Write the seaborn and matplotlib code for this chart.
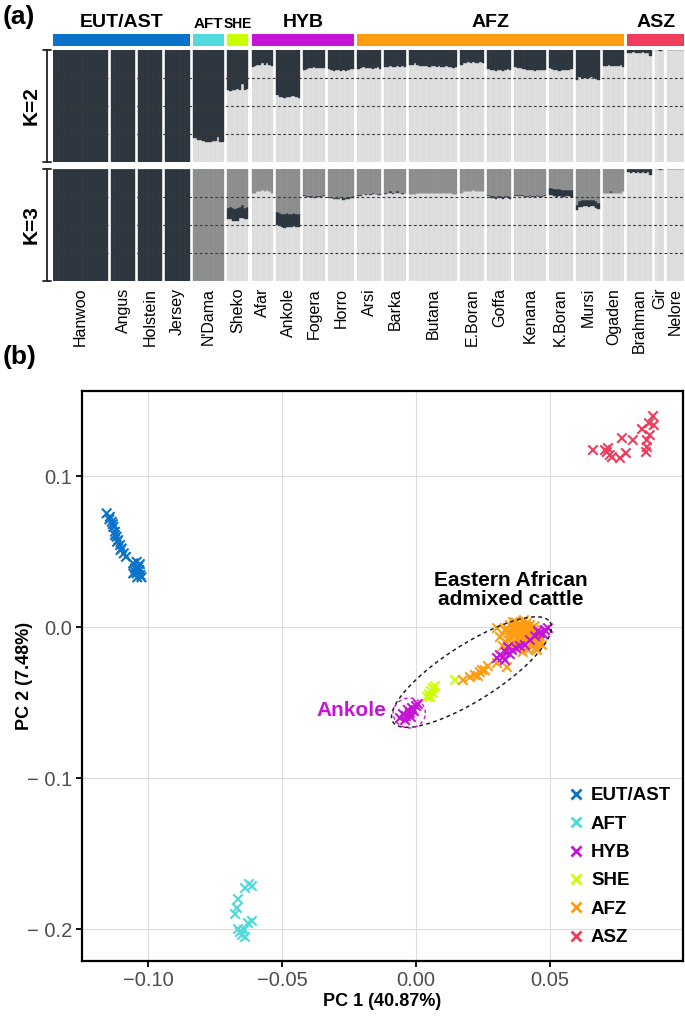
import numpy as np
import pandas as pd
import matplotlib
matplotlib.use("Agg")
import matplotlib.pyplot as plt
import seaborn as sns
from matplotlib.lines import Line2D

sns.set_theme(style="white")
plt.rcParams['font.family'] = ['Liberation Sans', 'DejaVu Sans']
plt.rcParams['text.color'] = 'black'
plt.rcParams['axes.labelcolor'] = 'black'

# ---------------- data: panel (a) ----------------
BREEDS = ["Hanwoo", "Angus", "Holstein", "Jersey", "N'Dama", "Sheko", "Afar", "Ankole",
          "Fogera", "Horro", "Arsi", "Barka", "Butana", "E.Boran", "Goffa", "Kenana",
          "K.Boran", "Mursi", "Ogaden", "Brahman", "Gir", "Nelore"]
BREED_GROUP = ["EUT/AST"] * 4 + ["AFT", "SHE"] + ["HYB"] * 4 + ["AFZ"] * 9 + ["ASZ"] * 3
GROUPS = ["EUT/AST", "AFT", "HYB", "SHE", "AFZ", "ASZ"]
STRIP_ORDER = ["EUT/AST", "AFT", "SHE", "HYB", "AFZ", "ASZ"]
GROUP_COLORS = {"EUT/AST": "#0a72c8", "AFT": "#52d9db", "HYB": "#c614d6",
                "SHE": "#ccff00", "AFZ": "#ff9d12", "ASZ": "#f23c5e"}

# K=2 : taurine (dark) ancestry of each individual
K2_TAURINE = [
    [1.0] * 23, [1.0] * 10, [1.0] * 10, [1.0] * 10,
    [0.79, 0.79, 0.80, 0.80, 0.81, 0.82, 0.82, 0.82, 0.81, 0.81, 0.78, 0.82, 0.82],
    [0.36, 0.37, 0.36, 0.36, 0.35, 0.36, 0.30, 0.36, 0.35],
    [0.15, 0.14, 0.13, 0.13, 0.12, 0.13, 0.12, 0.13, 0.14],
    [0.40, 0.42, 0.42, 0.43, 0.42, 0.42, 0.41, 0.41, 0.42, 0.43],
    [0.18, 0.17, 0.16, 0.16, 0.15, 0.16, 0.16, 0.16, 0.16],
    [0.17, 0.18, 0.19, 0.18, 0.18, 0.19, 0.18, 0.19, 0.18, 0.17, 0.17],
    [0.17, 0.16, 0.15, 0.16, 0.16, 0.16, 0.17, 0.16, 0.15, 0.17],
    [0.15, 0.15, 0.14, 0.15, 0.15, 0.14, 0.15, 0.14, 0.15],
    [0.13, 0.13, 0.12, 0.13, 0.14, 0.14, 0.14, 0.14, 0.15, 0.14,
     0.14, 0.15, 0.14, 0.15, 0.15, 0.14, 0.15, 0.15, 0.16, 0.15],
    [0.13, 0.12, 0.12, 0.11, 0.12, 0.11, 0.12, 0.12, 0.11, 0.12],
    [0.17, 0.18, 0.18, 0.19, 0.18, 0.18, 0.19, 0.18, 0.17, 0.18],
    [0.15, 0.16, 0.16, 0.17, 0.17, 0.18, 0.18, 0.18, 0.19, 0.18, 0.18, 0.18, 0.18],
    [0.16, 0.17, 0.18, 0.18, 0.19, 0.18, 0.18, 0.18, 0.18, 0.17],
    [0.27, 0.24, 0.25, 0.25, 0.25, 0.25, 0.24, 0.25, 0.26, 0.27],
    [0.14, 0.14, 0.13, 0.14, 0.14, 0.14, 0.14, 0.13, 0.15],
    [0.03, 0.03, 0.02, 0.03, 0.03, 0.03, 0.02, 0.03, 0.03, 0.05],
    [0.0, 0.0, 0.01, 0.0],
    [0.0] * 7,
]

# K=3 : African taurine (mid grey, top) and European taurine (dark, middle)
K3_AFT = [
    [0.0] * 23, [0.0] * 10, [0.0] * 10, [0.0] * 10,
    [1.0] * 13,
    [0.35, 0.34, 0.35, 0.36, 0.35, 0.34, 0.32, 0.35, 0.34],
    [0.21, 0.21, 0.20, 0.20, 0.19, 0.20, 0.19, 0.20, 0.21],
    [0.38, 0.39, 0.40, 0.40, 0.39, 0.40, 0.40, 0.39, 0.40, 0.40],
    [0.23, 0.24, 0.24, 0.24, 0.25, 0.24, 0.24, 0.24, 0.23],
    [0.25, 0.25, 0.26, 0.26, 0.26, 0.25, 0.26, 0.26, 0.25, 0.25, 0.24],
    [0.23, 0.23, 0.22, 0.22, 0.22, 0.22, 0.21, 0.22, 0.22, 0.22],
    [0.21, 0.21, 0.20, 0.21, 0.21, 0.20, 0.21, 0.21, 0.21],
    [0.22, 0.22, 0.22, 0.21, 0.21, 0.21, 0.21, 0.21, 0.21, 0.21,
     0.21, 0.21, 0.21, 0.21, 0.21, 0.21, 0.21, 0.21, 0.22, 0.22],
    [0.21, 0.20, 0.20, 0.20, 0.20, 0.19, 0.20, 0.20, 0.20, 0.20],
    [0.23, 0.24, 0.24, 0.25, 0.24, 0.24, 0.25, 0.24, 0.24, 0.25],
    [0.23, 0.23, 0.23, 0.23, 0.24, 0.24, 0.23, 0.24, 0.24, 0.23, 0.24, 0.24, 0.23],
    [0.17, 0.17, 0.18, 0.18, 0.18, 0.19, 0.19, 0.19, 0.19, 0.19],
    [0.32, 0.29, 0.28, 0.28, 0.28, 0.28, 0.28, 0.28, 0.29, 0.30],
    [0.21, 0.21, 0.21, 0.20, 0.21, 0.21, 0.21, 0.21, 0.20],
    [0.0] * 10, [0.0] * 4, [0.0] * 7,
]
K3_EUT = [
    [1.0] * 23, [1.0] * 10, [1.0] * 10, [1.0] * 10,
    [0.0] * 13,
    [0.10, 0.11, 0.11, 0.10, 0.11, 0.10, 0.12, 0.10, 0.11],
    [0.0] * 9,
    [0.12, 0.12, 0.12, 0.13, 0.13, 0.12, 0.12, 0.12, 0.12, 0.12],
    [0.01, 0.01, 0.01, 0.01, 0.01, 0.01, 0.01, 0.01, 0.01],
    [0.01, 0.01, 0.01, 0.01, 0.01, 0.01, 0.02, 0.01, 0.02, 0.01, 0.02],
    [0.01, 0.01, 0.0, 0.01, 0.0, 0.01, 0.01, 0.0, 0.01, 0.01],
    [0.01, 0.0, 0.01, 0.01, 0.0, 0.01, 0.0, 0.01, 0.0],
    [0.0, 0.0, 0.0, 0.0, 0.005, 0.0, 0.0, 0.0, 0.0, 0.0,
     0.0, 0.0, 0.0, 0.0, 0.0, 0.005, 0.0, 0.0, 0.0, 0.0],
    [0.0, 0.0, 0.0, 0.0, 0.0, 0.0, 0.0, 0.0, 0.0, 0.0],
    [0.01, 0.02, 0.02, 0.02, 0.01, 0.02, 0.02, 0.01, 0.02, 0.02],
    [0.01, 0.01, 0.01, 0.01, 0.01, 0.01, 0.01, 0.01, 0.01, 0.01, 0.01, 0.01, 0.01],
    [0.06, 0.06, 0.06, 0.07, 0.06, 0.06, 0.06, 0.05, 0.05, 0.06],
    [0.05, 0.05, 0.06, 0.05, 0.05, 0.06, 0.05, 0.05, 0.06, 0.06],
    [0.0, 0.0, 0.0, 0.01, 0.0, 0.0, 0.0, 0.0, 0.0],
    [0.03, 0.04, 0.03, 0.04, 0.03, 0.04, 0.03, 0.04, 0.03, 0.05],
    [0.0, 0.0, 0.01, 0.0],
    [0.0] * 7,
]

# ---------------- data: panel (b) PCA ----------------
eut_x = [-0.1154, -0.1144, -0.1142, -0.1135, -0.1131, -0.1129, -0.1123, -0.1123, -0.1117,
         -0.1115, -0.1111, -0.1104, -0.1102, -0.1098, -0.1090, -0.1082,
         -0.1055, -0.1042, -0.1030, -0.1048, -0.1032, -0.1042, -0.1055, -0.1028,
         -0.1040, -0.1048, -0.1036, -0.1024]
eut_y = [0.0753, 0.0713, 0.0730, 0.0697, 0.0682, 0.0664, 0.0631, 0.0609, 0.0598,
         0.0565, 0.0576, 0.0543, 0.0510, 0.0521, 0.0488, 0.0465,
         0.0422, 0.0432, 0.0417, 0.0388, 0.0377, 0.0355, 0.0355, 0.0344,
         0.0329, 0.0366, 0.0399, 0.0329]
aft_x = [-0.0638, -0.0612, -0.0623, -0.0664, -0.0668, -0.0675, -0.0664, -0.0657,
         -0.0627, -0.0612, -0.0649, -0.0638, -0.0642]
aft_y = [-0.1728, -0.1715, -0.1701, -0.1801, -0.1860, -0.1900, -0.1999, -0.2019,
         -0.1960, -0.1946, -0.2039, -0.2052, -0.2006]
she_x = [0.0041, 0.0048, 0.0056, 0.0063, 0.0071, 0.0052, 0.0063, 0.0145]
she_y = [-0.0463, -0.0444, -0.0424, -0.0404, -0.0391, -0.0463, -0.0437, -0.0351]
afz_x = [0.0332, 0.0350, 0.0369, 0.0388, 0.0406, 0.0425, 0.0444, 0.0358, 0.0380, 0.0399,
         0.0418, 0.0436, 0.0455, 0.0343, 0.0369, 0.0388, 0.0406, 0.0425, 0.0444, 0.0462,
         0.0324, 0.0350, 0.0388, 0.0418, 0.0451, 0.0313, 0.0470, 0.0302, 0.0362, 0.0403,
         0.0340, 0.0355, 0.0365, 0.0375, 0.0385, 0.0395, 0.0410, 0.0420, 0.0430, 0.0440,
         0.0450, 0.0460, 0.0335, 0.0348, 0.0362, 0.0378, 0.0392, 0.0402, 0.0415, 0.0428,
         0.0438, 0.0448, 0.0458, 0.0372, 0.0386, 0.0398, 0.0412, 0.0432, 0.0442, 0.0398,
         0.0339, 0.0302, 0.0175, 0.0201, 0.0220, 0.0238, 0.0257, 0.0231, 0.0268, 0.0246]
afz_y = [-0.0020, 0.0013, -0.0007, 0.0020, 0.0000, 0.0013, -0.0020, -0.0053, -0.0033, -0.0060,
         -0.0040, -0.0066, -0.0053, -0.0086, -0.0099, -0.0086, -0.0106, -0.0093, -0.0113, -0.0086,
         -0.0126, -0.0139, -0.0139, -0.0152, -0.0152, -0.0066, -0.0119, -0.0007, 0.0033, 0.0046,
         -0.0010, -0.0035, 0.0005, -0.0045, -0.0015, -0.0030, -0.0025, -0.0050, -0.0010, -0.0045,
         -0.0075, -0.0060, -0.0100, -0.0070, -0.0115, -0.0075, -0.0095, -0.0120, -0.0070, -0.0120,
         -0.0095, -0.0135, -0.0105, 0.0030, -0.0005, 0.0035, 0.0025, -0.0030, 0.0005, -0.0165,
         -0.0265, -0.0238, -0.0351, -0.0331, -0.0318, -0.0298, -0.0285, -0.0324, -0.0258, -0.0285]
hyb_x = [0.0302, 0.0313, 0.0324, 0.0335, 0.0350, 0.0332, 0.0358, 0.0373, 0.0388, 0.0406,
         0.0343, 0.0425, 0.0444, 0.0462, 0.0481, 0.0492, 0.0474, 0.0455,
         -0.0060, -0.0049, -0.0038, -0.0030, -0.0023, -0.0015, -0.0008, 0.0000,
         -0.0041, -0.0019, 0.0007]
hyb_y = [-0.0205, -0.0185, -0.0199, -0.0166, -0.0179, -0.0218, -0.0152, -0.0139, -0.0126, -0.0119,
         -0.0132, -0.0086, -0.0060, -0.0040, -0.0020, -0.0007, -0.0046, -0.0026,
         -0.0602, -0.0576, -0.0589, -0.0549, -0.0569, -0.0536, -0.0556, -0.0523,
         -0.0616, -0.0596, -0.0510]
asz_x = [0.0660, 0.0705, 0.0712, 0.0723, 0.0731, 0.0716, 0.0768, 0.0783, 0.0761, 0.0809,
         0.0843, 0.0861, 0.0861, 0.0858, 0.0872, 0.0869, 0.0884, 0.0887]
asz_y = [0.1172, 0.1172, 0.1159, 0.1139, 0.1125, 0.1185, 0.1251, 0.1152, 0.1119, 0.1238,
         0.1311, 0.1238, 0.1192, 0.1159, 0.1271, 0.1350, 0.1397, 0.1337]

X_TICKS = [-0.10, -0.05, 0.00, 0.05]
X_TICKLABELS = ["\u22120.10", "\u22120.05", "0.00", "0.05"]
Y_TICKS = [0.1, 0.0, -0.1, -0.2]
Y_TICKLABELS = ["0.1", "0.0", "\u2212 0.1", "\u2212 0.2"]

# ---------------- figure ----------------
W, H = 685, 1021
fig = plt.figure(figsize=(W / 100, H / 100), dpi=100)


def rect(x0, y0, x1, y1):
    """pixel box (top-left origin) -> figure fraction"""
    return [x0 / W, 1 - y1 / H, (x1 - x0) / W, (y1 - y0) / H]


DARK, MID, LIGHT = "#2c343d", "#8b8d8d", "#dadada"
GAP = 1.25
counts = [len(v) for v in K2_TAURINE]
starts = []
p = 0.0
for c in counts:
    starts.append(p)
    p += c + GAP
TOTAL = p - GAP

ax2 = fig.add_axes(rect(53, 50, 684, 162))
ax3 = fig.add_axes(rect(53, 169, 684, 281))
axs = fig.add_axes(rect(53, 34, 684, 46))

for ax in (ax2, ax3):
    for i, b in enumerate(BREEDS):
        xs = starts[i] + np.arange(counts[i])
        if ax is ax2:
            t = np.array(K2_TAURINE[i])
            ax.bar(xs, 1 - t, width=1, align="edge", color=LIGHT, edgecolor="#ececec", linewidth=0.3)
            ax.bar(xs, t, bottom=1 - t, width=1, align="edge", color=DARK, edgecolor="#363e48", linewidth=0.3)
        else:
            a = np.array(K3_AFT[i])
            e = np.array(K3_EUT[i])
            ind = np.clip(1 - a - e, 0, 1)
            ax.bar(xs, ind, width=1, align="edge", color=LIGHT, edgecolor="#ececec", linewidth=0.3)
            ax.bar(xs, e, bottom=ind, width=1, align="edge", color=DARK, edgecolor="#363e48", linewidth=0.3)
            ax.bar(xs, a, bottom=ind + e, width=1, align="edge", color=MID, edgecolor="#979999", linewidth=0.3)
    for yv in (0.25, 0.5, 0.75):
        ax.axhline(yv, color="#3a3a3a", lw=0.8, ls=(0, (2.5, 2.2)))
    ax.set_xlim(0, TOTAL)
    ax.set_ylim(0, 1)
    ax.set_yticks([])
    for s in ax.spines.values():
        s.set_visible(False)
ax2.set_xticks([])
centers = [starts[i] + counts[i] / 2 for i in range(len(BREEDS))]
ax3.set_xticks(centers)
ax3.set_xticklabels(BREEDS, rotation=90, fontsize=11.5, color="black")
ax3.tick_params(axis="x", length=0, pad=5)

# group strip
axs.set_xlim(0, TOTAL)
axs.set_ylim(0, 1)
axs.axis("off")
for g in STRIP_ORDER:
    idx = [i for i, bg in enumerate(BREED_GROUP) if bg == g]
    x0 = starts[idx[0]]
    x1 = starts[idx[-1]] + counts[idx[-1]]
    axs.bar(x0, 1, width=x1 - x0, align="edge", color=GROUP_COLORS[g], linewidth=0)
    if g in ("AFT", "SHE"):
        axs.text((x0 + x1) / 2, 1.25, g, ha="center", va="bottom", fontsize=11 if g == "AFT" else 10,
                 fontweight="bold", family=["Liberation Sans Narrow", "Liberation Sans"])
    else:
        axs.text((x0 + x1) / 2, 1.25, g, ha="center", va="bottom", fontsize=14, fontweight="bold")

# K labels and brackets
for (y0, y1), lab in (((50, 162), "K=2"), ((169, 281), "K=3")):
    fig.add_artist(Line2D([47 / W, 47 / W], [1 - y0 / H, 1 - y1 / H], color="#222222", lw=1.3))
    for yy in (y0, y1):
        fig.add_artist(Line2D([43.5 / W, 51 / W], [1 - yy / H, 1 - yy / H], color="#222222", lw=1.3))
    fig.text(31 / W, 1 - (y0 + y1) / 2 / H, lab, rotation=90, ha="center", va="center",
             fontsize=15, fontweight="bold")

fig.text(3 / W, 1 - 17 / H, "(a)", fontsize=19, fontweight="bold", va="center", ha="left")
fig.text(3 / W, 1 - 357 / H, "(b)", fontsize=19, fontweight="bold", va="center", ha="left")

# ---------------- panel (b) ----------------
axb = fig.add_axes(rect(82, 391, 683, 961))
frames = []
for g, xs, ys in (("EUT/AST", eut_x, eut_y), ("AFT", aft_x, aft_y), ("SHE", she_x, she_y),
                  ("AFZ", afz_x, afz_y), ("HYB", hyb_x, hyb_y), ("ASZ", asz_x, asz_y)):
    frames.append(pd.DataFrame({"PC1": xs, "PC2": ys, "group": g}))
df = pd.concat(frames, ignore_index=True)
sns.scatterplot(data=df, x="PC1", y="PC2", hue="group", hue_order=GROUPS,
                palette=GROUP_COLORS, marker="x", s=46, linewidth=1.5, legend=False, ax=axb, zorder=3)

axb.set_xlim(-0.1246, 0.0996)
axb.set_ylim(-0.2211, 0.1563)
axb.set_xticks(X_TICKS)
axb.set_xticklabels(X_TICKLABELS)
axb.set_yticks(Y_TICKS)
axb.set_yticklabels(Y_TICKLABELS)
axb.grid(True, color="#dcdcdc", lw=0.8)
axb.set_axisbelow(True)
for s in axb.spines.values():
    s.set_visible(True)
    s.set_color("black")
    s.set_linewidth(1.6)
axb.tick_params(axis="both", which="major", direction="out", length=4, width=1.3, color="black",
                labelsize=14.5, labelcolor="#4d4d4d", bottom=True, left=True, pad=3)
axb.set_xlabel("PC 1 (40.87%)", fontsize=13, fontweight="bold", labelpad=2, color="black")
axb.set_ylabel("PC 2 (7.48%)", fontsize=13, fontweight="bold", color="black")
axb.yaxis.set_label_coords(-0.082, 0.5)

# ellipses
t = np.linspace(0, 2 * np.pi, 300)
cx, cy = 0.0207, -0.0298
ux, uy = 0.0293, 0.0331
vx, vy = 0.0056, -0.0156
axb.plot(cx + np.cos(t) * ux + np.sin(t) * vx, cy + np.cos(t) * uy + np.sin(t) * vy,
         color="#222222", lw=1.1, ls=(0, (2.5, 2.2)), zorder=4)
axb.plot(-0.0025 + 0.0060 * np.cos(t), -0.0569 + 0.0099 * np.sin(t),
         color=GROUP_COLORS["HYB"], lw=1.0, ls=(0, (2.5, 2.2)), zorder=4)
axb.text(0.0355, 0.0245, "Eastern African\nadmixed cattle", ha="center", va="center",
         fontsize=15, fontweight="bold", linespacing=1.0, color="black")
axb.text(-0.0112, -0.0555, "Ankole", ha="right", va="center", fontsize=15, fontweight="bold",
         color=GROUP_COLORS["HYB"])

handles = [Line2D([], [], ls="none", marker="x", markersize=7, mew=2, color=GROUP_COLORS[g]) for g in GROUPS]
leg = axb.legend(handles, GROUPS, loc="upper left", bbox_to_anchor=(0.797, 0.318), frameon=False,
                 prop={"weight": "bold", "size": 13.5}, handlelength=0.8, handletextpad=0.4,
                 labelspacing=0.6, borderaxespad=0)
for txt in leg.get_texts():
    txt.set_color("black")

fig.savefig("out.png", dpi=100)
